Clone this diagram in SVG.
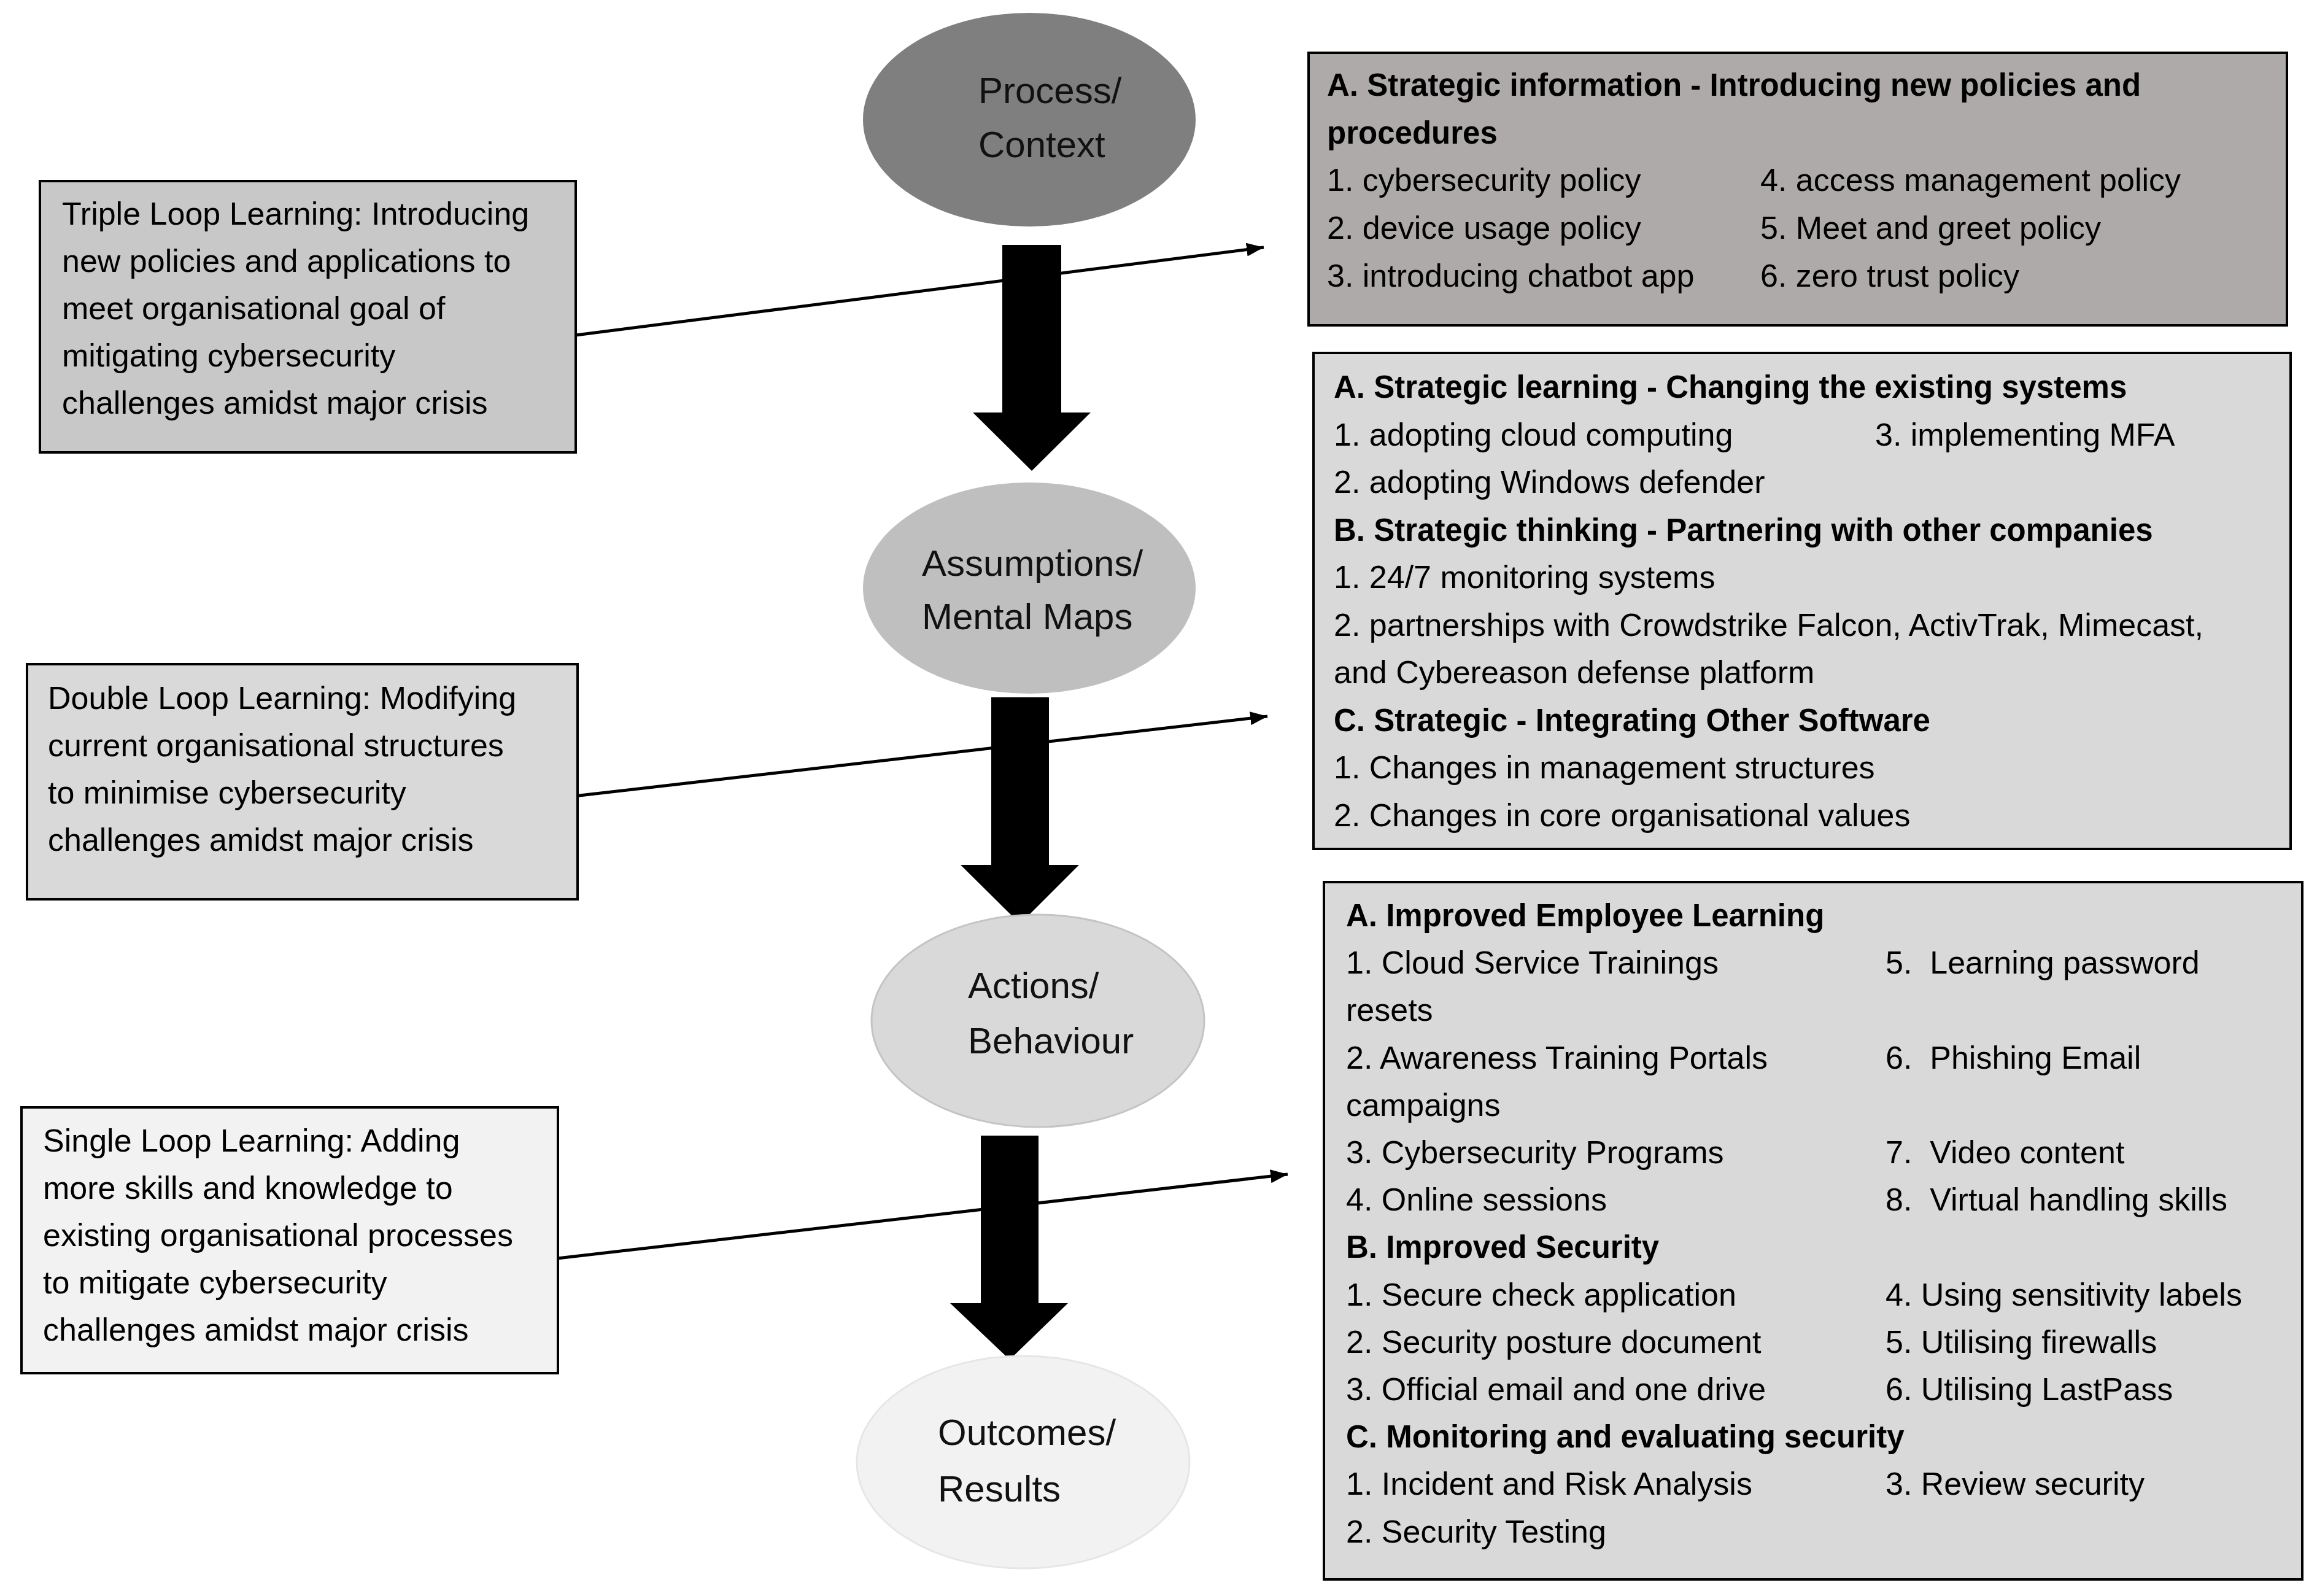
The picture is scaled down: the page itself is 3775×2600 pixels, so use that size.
<svg xmlns="http://www.w3.org/2000/svg" width="3775" height="2600" viewBox="0 0 3775 2600">
<style>
text{font-family:"Liberation Sans",Arial,sans-serif;fill:#000;}
.t{font-size:52px;}
.b{font-size:51px;font-weight:bold;}
.e{font-size:60px;fill:#111;}
.box{stroke:#000;stroke-width:4;}
.blk{fill:#000;}
.thin{stroke:#000;stroke-width:5;fill:none;}
</style>
<defs>
<marker id="ah" markerUnits="userSpaceOnUse" markerWidth="30" markerHeight="24" refX="28" refY="11" orient="auto">
<path d="M0,0 L28,11 L0,22 z" fill="#000"/>
</marker>
</defs>
<rect width="3775" height="2600" fill="#fff"/>

<g id="connectors">
<polygon class="blk" points="1633,399 1729,399 1729,672 1777,672 1681,767 1585,672 1633,672"/>
<polygon class="blk" points="1615,1136 1709,1136 1709,1409 1758,1409 1662,1505 1565,1409 1615,1409"/>
<polygon class="blk" points="1598,1850 1692,1850 1692,2123 1740,2123 1645,2215 1548,2123 1598,2123"/>
<line class="thin" x1="938" y1="546" x2="2059" y2="403" marker-end="url(#ah)"/>
<line class="thin" x1="935" y1="1297" x2="2065" y2="1167" marker-end="url(#ah)"/>
<line class="thin" x1="908" y1="2050" x2="2098" y2="1913" marker-end="url(#ah)"/>
</g>

<g id="process-context">
<ellipse cx="1677" cy="195" rx="271" ry="174" fill="#7f7f7f"/>
<text class="e" x="1594" y="168">Process/</text>
<text class="e" x="1594" y="256">Context</text>
</g>

<g id="assumptions-mental-maps">
<ellipse cx="1677" cy="958" rx="271" ry="172" fill="#bfbfbf"/>
<text class="e" x="1502" y="938">Assumptions/</text>
<text class="e" x="1502" y="1025">Mental Maps</text>
</g>

<g id="actions-behaviour">
<ellipse cx="1691" cy="1663" rx="271" ry="173" fill="#d9d9d9" stroke="#c4c4c4" stroke-width="3"/>
<text class="e" x="1577" y="1626">Actions/</text>
<text class="e" x="1577" y="1716">Behaviour</text>
</g>

<g id="outcomes-results">
<ellipse cx="1667" cy="2382" rx="271" ry="173" fill="#f2f2f2" stroke="#e6e6e6" stroke-width="3"/>
<text class="e" x="1528" y="2354">Outcomes/</text>
<text class="e" x="1528" y="2446">Results</text>
</g>

<g id="triple-loop">
<rect class="box" x="65" y="295" width="873" height="442" fill="#c8c8c8"/>
<text class="t" x="101" y="366">Triple Loop Learning: Introducing</text>
<text class="t" x="101" y="443">new policies and applications to</text>
<text class="t" x="101" y="520">meet organisational goal of</text>
<text class="t" x="101" y="597">mitigating cybersecurity</text>
<text class="t" x="101" y="674">challenges amidst major crisis</text>
</g>

<g id="double-loop">
<rect class="box" x="44" y="1082" width="897" height="383" fill="#d9d9d9"/>
<text class="t" x="78" y="1155">Double Loop Learning: Modifying</text>
<text class="t" x="78" y="1232">current organisational structures</text>
<text class="t" x="78" y="1309">to minimise cybersecurity</text>
<text class="t" x="78" y="1386">challenges amidst major crisis</text>
</g>

<g id="single-loop">
<rect class="box" x="35" y="1804" width="874" height="433" fill="#f2f2f2"/>
<text class="t" x="70" y="1876">Single Loop Learning: Adding</text>
<text class="t" x="70" y="1953">more skills and knowledge to</text>
<text class="t" x="70" y="2030">existing organisational processes</text>
<text class="t" x="70" y="2107">to mitigate cybersecurity</text>
<text class="t" x="70" y="2184">challenges amidst major crisis</text>
</g>

<g id="strategic-information">
<rect class="box" x="2132" y="86" width="1594" height="444" fill="#aeaaaa"/>
<text class="b" x="2162" y="156">A. Strategic information - Introducing new policies and</text>
<text class="b" x="2162" y="234">procedures</text>
<text class="t" x="2162" y="311">1. cybersecurity policy</text>
<text class="t" x="2162" y="389">2. device usage policy</text>
<text class="t" x="2162" y="467">3. introducing chatbot app</text>
<text class="t" x="2868" y="311">4. access management policy</text>
<text class="t" x="2868" y="389">5. Meet and greet policy</text>
<text class="t" x="2868" y="467">6. zero trust policy</text>
</g>

<g id="strategic-learning">
<rect class="box" x="2140" y="575" width="1592" height="808" fill="#d9d9d9"/>
<text class="b" x="2173" y="648">A. Strategic learning - Changing the existing systems</text>
<text class="t" x="2173" y="726">1. adopting cloud computing</text>
<text class="t" x="3055" y="726">3. implementing MFA</text>
<text class="t" x="2173" y="803">2. adopting Windows defender</text>
<text class="b" x="2173" y="881">B. Strategic thinking - Partnering with other companies</text>
<text class="t" x="2173" y="958">1. 24/7 monitoring systems</text>
<text class="t" x="2173" y="1036">2. partnerships with Crowdstrike Falcon, ActivTrak, Mimecast,</text>
<text class="t" x="2173" y="1113">and Cybereason defense platform</text>
<text class="b" x="2173" y="1191">C. Strategic - Integrating Other Software</text>
<text class="t" x="2173" y="1268">1. Changes in management structures</text>
<text class="t" x="2173" y="1346">2. Changes in core organisational values</text>
</g>

<g id="improved-outcomes">
<rect class="box" x="2157" y="1437" width="1594" height="1136" fill="#d9d9d9"/>
<text class="b" x="2193" y="1509">A. Improved Employee Learning</text>
<text class="t" x="2193" y="1586">1. Cloud Service Trainings</text>
<text class="t" x="3072" y="1586" xml:space="preserve">5.  Learning password</text>
<text class="t" x="2193" y="1663">resets</text>
<text class="t" x="2193" y="1741">2. Awareness Training Portals</text>
<text class="t" x="3072" y="1741" xml:space="preserve">6.  Phishing Email</text>
<text class="t" x="2193" y="1818">campaigns</text>
<text class="t" x="2193" y="1895">3. Cybersecurity Programs</text>
<text class="t" x="3072" y="1895" xml:space="preserve">7.  Video content</text>
<text class="t" x="2193" y="1972">4. Online sessions</text>
<text class="t" x="3072" y="1972" xml:space="preserve">8.  Virtual handling skills</text>
<text class="b" x="2193" y="2049">B. Improved Security</text>
<text class="t" x="2193" y="2127">1. Secure check application</text>
<text class="t" x="3072" y="2127">4. Using sensitivity labels</text>
<text class="t" x="2193" y="2204">2. Security posture document</text>
<text class="t" x="3072" y="2204">5. Utilising firewalls</text>
<text class="t" x="2193" y="2281">3. Official email and one drive</text>
<text class="t" x="3072" y="2281">6. Utilising LastPass</text>
<text class="b" x="2193" y="2358">C. Monitoring and evaluating security</text>
<text class="t" x="2193" y="2435">1. Incident and Risk Analysis</text>
<text class="t" x="3072" y="2435">3. Review security</text>
<text class="t" x="2193" y="2513">2. Security Testing</text>
</g>
</svg>
